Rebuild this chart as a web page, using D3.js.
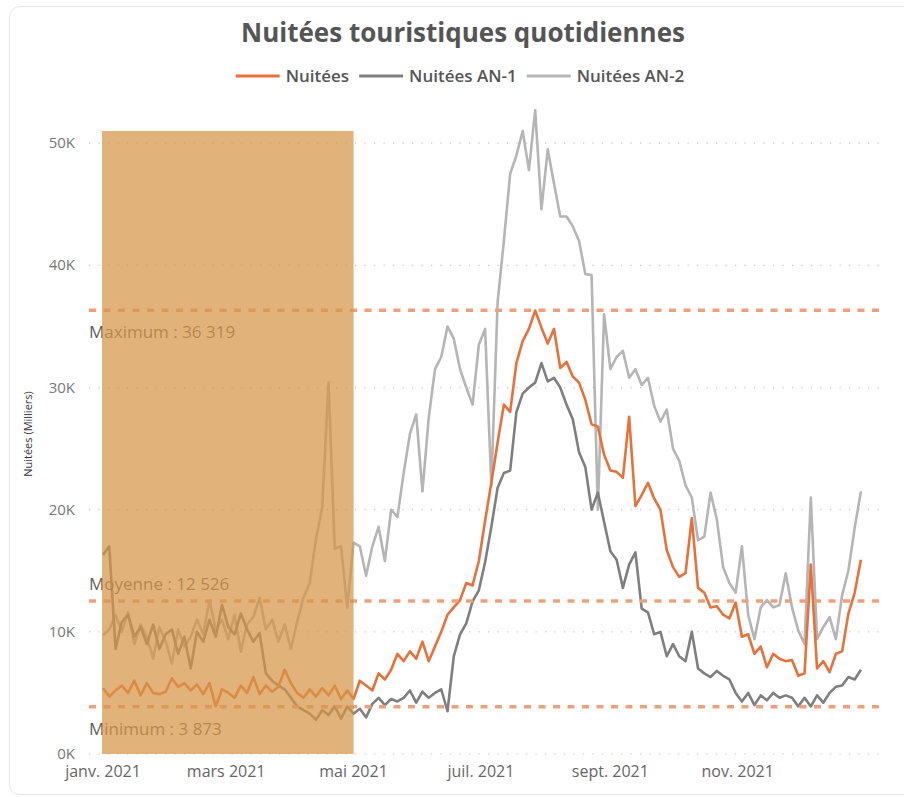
<!DOCTYPE html>
<html lang="fr">
<head>
    <meta charset="UTF-8">
    <title>Nuitées touristiques quotidiennes</title>
    <script src="https://d3js.org/d3.v7.min.js"></script>
    <style>
        body { margin: 0; background: #fff; }
        svg { font-family: "Open Sans", sans-serif; }
        .grid line { stroke: #c4c4c4; stroke-width: 1.2; stroke-dasharray: 1.2, 8.3; }
        .tick-y { font-size: 15px; fill: #777; }
        .tick-x { font-size: 16px; fill: #666; }
        .series { fill: none; stroke-width: 2.6; stroke-linejoin: round; }
        .ref-line { stroke: #f0a078; stroke-width: 3.5; stroke-dasharray: 7, 7.5; }
        .ref-label { font-size: 17px; fill: #5e5e5e; }
        .title { font-size: 26px; font-weight: 700; fill: #555; }
        .legend text { font-size: 17px; font-weight: 600; fill: #555; }
    </style>
</head>
<body>
<svg id="chart" width="904" height="797"></svg>
<script>
// daily tourist nights, in thousands, one reading every 3 days from 1 Jan 2021
const startDate = "2021-01-01";
const stepDays = 3;

const nuitees = [
    5.4, 4.7, 5.2, 5.6, 5.0, 6.0, 4.8, 5.8, 5.0, 4.9,
    5.1, 6.2, 5.5, 5.8, 5.2, 5.7, 4.9, 5.8, 3.9, 5.3,
    5.0, 4.6, 5.6, 5.0, 6.3, 4.9, 5.6, 5.1, 5.5, 6.9,
    5.8, 5.0, 4.6, 5.3, 4.7, 5.4, 4.8, 5.6, 4.5, 5.2,
    4.5, 6.0, 5.6, 5.2, 6.6, 6.1, 6.9, 8.2, 7.6, 8.4,
    7.8, 9.2, 7.6, 8.8, 10.0, 11.4, 12.0, 12.6, 14.0, 13.8,
    15.8, 19.1, 22.2, 25.5, 28.6, 28.0, 32.0, 33.8, 34.8, 36.3,
    34.9, 33.6, 34.8, 31.6, 32.1, 30.9, 30.4, 29.0, 27.0, 26.8,
    24.5, 23.2, 23.1, 22.6, 27.6, 20.3, 21.2, 22.2, 20.9, 20.0,
    16.7, 15.3, 14.5, 14.8, 19.3, 13.6, 13.2, 12.0, 12.1, 11.4,
    11.1, 12.4, 9.6, 9.8, 8.2, 8.8, 7.1, 8.2, 7.8, 7.6,
    7.7, 6.4, 6.6, 15.5, 7.0, 7.6, 6.7, 8.2, 8.4, 11.5, 13.2, 15.9
];

const nuiteesAN1 = [
    16.3, 17.0, 8.6, 10.8, 11.4, 9.6, 10.4, 9.0, 10.6, 8.6,
    9.8, 10.2, 8.2, 9.6, 7.0, 10.0, 9.2, 11.0, 9.6, 12.2,
    10.4, 9.8, 11.5, 10.2, 9.2, 9.9, 6.6, 6.0, 5.6, 5.3,
    4.6, 3.9, 3.6, 3.3, 2.8, 3.6, 3.2, 3.9, 2.9, 3.9,
    3.3, 3.7, 3.0, 4.1, 4.6, 4.0, 4.5, 4.3, 4.6, 5.2,
    4.2, 5.1, 4.6, 5.0, 5.3, 3.5, 8.0, 9.8, 10.7, 12.5,
    13.4, 15.7, 18.6, 21.8, 23.0, 23.2, 28.0, 29.5, 30.0, 30.4,
    32.0, 30.5, 30.8, 30.0, 28.6, 27.4, 24.7, 23.5, 20.0, 21.4,
    19.0, 16.6, 15.9, 13.6, 15.5, 16.5, 11.9, 11.6, 9.8, 10.0,
    8.0, 9.0, 8.0, 7.6, 10.0, 7.0, 6.6, 6.3, 6.8, 6.4,
    6.1, 5.0, 4.3, 5.0, 4.0, 4.8, 4.4, 5.0, 4.6, 4.8,
    4.6, 3.9, 4.6, 3.9, 4.8, 4.2, 5.0, 5.5, 5.6, 6.3, 6.1, 6.9
];

const nuiteesAN2 = [
    9.7, 10.2, 11.4, 10.0, 11.6, 9.0, 10.6, 9.6, 7.8, 10.4,
    9.2, 7.4, 10.2, 8.8, 9.6, 11.0, 9.8, 12.6, 10.2, 11.0,
    9.4, 11.4, 8.4, 10.6, 11.2, 12.8, 10.2, 11.0, 9.2, 10.6,
    8.6, 10.8, 12.8, 14.0, 17.6, 20.2, 30.4, 16.8, 17.0, 12.0,
    17.3, 17.0, 14.6, 17.0, 18.6, 15.8, 20.0, 19.4, 23.0, 26.2,
    27.8, 21.5, 27.5, 31.5, 32.5, 35.0, 34.0, 31.5, 30.0, 28.6,
    33.5, 34.8, 22.0, 37.0, 42.0, 47.5, 49.0, 51.0, 47.8, 52.7,
    44.6, 49.5, 46.7, 44.0, 44.0, 43.2, 42.0, 39.3, 39.2, 20.0,
    36.0, 31.5, 32.5, 33.0, 30.8, 31.5, 30.2, 30.8, 28.5, 27.2,
    28.2, 25.0, 24.0, 22.0, 21.0, 17.5, 17.8, 21.4, 19.2, 15.3,
    14.0, 13.2, 17.0, 11.4, 9.4, 12.0, 12.6, 12.0, 12.2, 14.8,
    12.0, 10.1, 9.0, 21.0, 9.4, 10.4, 11.2, 9.4, 13.0, 15.0, 18.5, 21.5
];

const seriesNames = ["Nuitées", "Nuitées AN-1", "Nuitées AN-2"];

const refLabels = ["Maximum : 36 319", "Moyenne : 12 526", "Minimum : 3 873"];
const refValues = [36.319, 12.526, 3.873];

const yTicks = [0, 10, 20, 30, 40, 50];
const yTickLabels = ["0K", "10K", "20K", "30K", "40K", "50K"];

const xTickDates = ["2021-01-01", "2021-03-01", "2021-05-01", "2021-07-01", "2021-09-01", "2021-11-01"];
const xTickLabels = ["janv. 2021", "mars 2021", "mai 2021", "juil. 2021", "sept. 2021", "nov. 2021"];

const highlightPeriod = ["2021-01-01", "2021-05-01"];

// styling
const seriesColors = ["#e8703a", "#7f7f7f", "#b5b5b5"];
const labelAbove = [false, true, false];

const svg = d3.select("#chart");
const parseDate = d3.timeParse("%Y-%m-%d");
const t0 = parseDate(startDate);
const dates = nuitees.map((d, i) => d3.timeDay.offset(t0, i * stepDays));

const plotLeft = 89, plotRight = 880;
const x = d3.scaleTime()
    .domain([parseDate("2021-01-01"), parseDate("2021-12-31")])
    .range([103, 863]);
const y = d3.scaleLinear().domain([0, 51]).range([754, 131]);

// card
svg.append("rect")
    .attr("x", 9.5).attr("y", 6.5)
    .attr("width", 920).attr("height", 788)
    .attr("rx", 10)
    .attr("fill", "none")
    .attr("stroke", "#e6e6e6");

// title
svg.append("text")
    .attr("class", "title")
    .attr("x", 463).attr("y", 42)
    .attr("text-anchor", "middle")
    .text("Nuitées touristiques quotidiennes");

// legend
const legend = svg.append("g").attr("class", "legend");
let lx = 0;
seriesNames.forEach((name, i) => {
    const g = legend.append("g").attr("transform", `translate(${lx},0)`);
    g.append("line")
        .attr("x1", 0).attr("x2", 44)
        .attr("stroke", seriesColors[i])
        .attr("stroke-width", 3);
    const t = g.append("text").attr("x", 50).attr("y", 6).text(name);
    lx += 50 + t.node().getComputedTextLength() + 10;
});
legend.attr("transform", `translate(${460 - (lx - 10) / 2},76)`);

// y axis title
svg.append("text")
    .attr("transform", "translate(32,434) rotate(-90)")
    .attr("text-anchor", "middle")
    .attr("font-size", 11)
    .attr("fill", "#333")
    .text("Nuitées (Milliers)");

// gridlines + y labels
const grid = svg.append("g").attr("class", "grid");
grid.selectAll("line")
    .data(yTicks)
    .join("line")
    .attr("x1", plotLeft).attr("x2", plotRight)
    .attr("y1", d => y(d)).attr("y2", d => y(d));

svg.selectAll(".tick-y")
    .data(yTicks)
    .join("text")
    .attr("class", "tick-y")
    .attr("x", 75)
    .attr("y", d => y(d) + 5)
    .attr("text-anchor", "end")
    .text((d, i) => yTickLabels[i]);

svg.selectAll(".tick-x")
    .data(xTickDates)
    .join("text")
    .attr("class", "tick-x")
    .attr("x", d => x(parseDate(d)))
    .attr("y", 777)
    .attr("text-anchor", "middle")
    .text((d, i) => xTickLabels[i]);

// lines
const line = d3.line()
    .x((d, i) => x(dates[i]))
    .y(d => y(d));

const allSeries = [nuitees, nuiteesAN1, nuiteesAN2];
[2, 1, 0].forEach(k => {
    svg.append("path")
        .datum(allSeries[k])
        .attr("class", "series")
        .attr("stroke", seriesColors[k])
        .attr("d", line);
});

// reference lines
svg.selectAll(".ref-line")
    .data(refValues)
    .join("line")
    .attr("class", "ref-line")
    .attr("x1", plotLeft).attr("x2", plotRight)
    .attr("y1", d => y(d)).attr("y2", d => y(d));

svg.selectAll(".ref-label")
    .data(refValues)
    .join("text")
    .attr("class", "ref-label")
    .attr("x", plotLeft)
    .attr("y", (d, i) => labelAbove[i] ? y(d) - 11 : y(d) + 28)
    .text((d, i) => refLabels[i]);

// highlighted period drawn over the plot
const h0 = x(parseDate(highlightPeriod[0])) - 1;
const h1 = x(parseDate(highlightPeriod[1]));
svg.append("rect")
    .attr("x", h0).attr("y", y(51))
    .attr("width", h1 - h0)
    .attr("height", y(0) - y(51))
    .attr("fill", "#d69546")
    .attr("opacity", 0.72);
</script>
</body>
</html>
